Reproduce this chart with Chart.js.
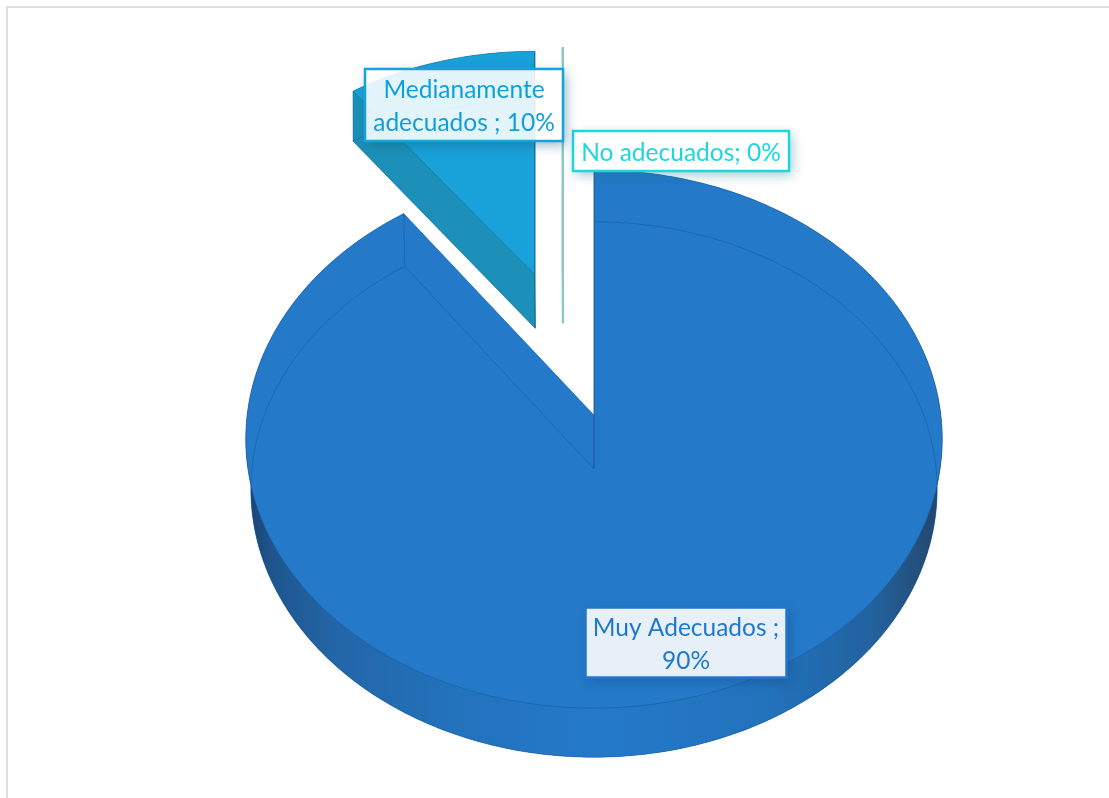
<!DOCTYPE html>
<html lang="es">
<head>
<meta charset="utf-8">
<title>Adecuación</title>
<script src="https://cdn.jsdelivr.net/npm/chart.js@4"></script>
<style>
  html, body { margin: 0; padding: 0; background: #fff; overflow: hidden; }
  #frame { position: absolute; left: 6px; top: 6px; width: 1103px; height: 792px;
           border-top: 2px solid #dedede; border-left: 2px solid #dedede; box-sizing: border-box; }
  #wrap { position: absolute; left: 0; top: 0; width: 1109px; height: 798px; }
</style>
</head>
<body>
<div id="frame"></div>
<div id="wrap"><canvas id="pie" width="1109" height="798"></canvas></div>
<script>
// Survey results
const categories = ['Muy Adecuados ', 'Medianamente adecuados ', 'No adecuados'];
const percentages = [90, 10, 0];

// Slice appearance
const faceColors = ['#2479c9', '#19a1d9', '#1dd6e0'];
const cutColors = ['#2479c9', '#1c90b8', '#88c9c2'];
const explodeOffsets = [0, 172, 172];
const textColors = ['#1f78cf', '#109fdd', '#1dd6e0'];
const borderColors = ['#2476c8', '#19a1d9', '#1dd6e0'];
const boxFills = ['rgba(255,255,255,0.89)', 'rgba(255,255,255,0.88)', 'rgba(255,255,255,0.95)'];
const shadowColors = ['rgba(15,60,110,0.35)', 'rgba(20,90,120,0.45)', 'rgba(20,120,130,0.4)'];
const labelBoxes = [
  { x: 585.5, y: 607.5, w: 201, h: 70 },
  { x: 365, y: 69, w: 198, h: 72 },
  { x: 573, y: 131, w: 216, h: 40 }
];

// Camera used to lay the disc over on the page: radii are multiples of the arc radius
const topView = { stretchX: 1.168, stretchY: 0.899, tilt: 0.0892, drop: 0 };
const baseView = { stretchX: 1.152, stretchY: 0.896, tilt: 0.0766, drop: 54 };
const emptySliceBearing = -9.4 * Math.PI / 180;

const FONT = '24.5px Lato, "Open Sans", sans-serif';
const LINE_HEIGHT = 33;

// Perspective projection of a rim point (u, d) of a slice moved by (su, sd) on the unit disc;
// the sideways move keeps its own depth so the slice's edges stay upright
function project(arc, view, u, d, su, sd) {
  const w = 1 - view.tilt * (d + sd);
  const ws = 1 - view.tilt * sd;
  const r = arc.outerRadius;
  return {
    x: arc.x + r * view.stretchX * (u / w + su / ws),
    y: arc.y + view.drop + r * view.stretchY * (d + sd) / w
  };
}

// Outline samples of one slice rim, moved by the slice's explode offset
function rim(arc, view, shift) {
  const points = [];
  const span = arc.endAngle - arc.startAngle;
  const steps = Math.max(1, Math.ceil(span / (Math.PI / 180)));
  for (let i = 0; i <= steps; i++) {
    const a = arc.startAngle + span * i / steps;
    points.push(project(arc, view, Math.cos(a), Math.sin(a), shift.u, shift.d));
  }
  return points;
}

function trace(ctx, points, close) {
  ctx.beginPath();
  points.forEach((p, i) => (i ? ctx.lineTo(p.x, p.y) : ctx.moveTo(p.x, p.y)));
  if (close) ctx.closePath();
}

function stroke(ctx, points, color, width) {
  ctx.strokeStyle = color;
  ctx.lineWidth = width;
  trace(ctx, points, false);
  ctx.stroke();
}

function sideGradient(ctx, arc, base) {
  const r = arc.outerRadius * topView.stretchX;
  const g = ctx.createLinearGradient(arc.x - r, 0, arc.x + r, 0);
  g.addColorStop(0, '#1b4470');
  g.addColorStop(0.04, '#1f568f');
  g.addColorStop(0.13, '#2366a8');
  g.addColorStop(0.3, '#2272bc');
  g.addColorStop(0.5, base);
  g.addColorStop(0.75, '#2272bc');
  g.addColorStop(0.9, '#22629f');
  g.addColorStop(0.97, '#244f7b');
  g.addColorStop(1, '#25456a');
  return g;
}

function drawSlice(ctx, arc, index) {
  const span = arc.endAngle - arc.startAngle;
  const mid = (arc.startAngle + arc.endAngle) / 2;
  const fraction = arc.options.offset / arc.outerRadius;
  const bearing = span > 0 ? mid : mid + emptySliceBearing;
  const shift = fraction
    ? { u: Math.cos(bearing) * fraction, d: Math.sin(bearing) * fraction }
    : { u: 0, d: 0 };
  const topApex = project(arc, topView, 0, 0, shift.u, shift.d);
  const baseApex = project(arc, baseView, 0, 0, shift.u, shift.d);
  const topRim = rim(arc, topView, shift);
  const baseRim = rim(arc, baseView, shift);

  // A slice of no size is only a sliver standing on edge
  if (span === 0) {
    stroke(ctx, [topRim[0], topApex, baseApex], cutColors[index], 2.4);
    return;
  }

  const face = faceColors[index];
  const isMain = index === 0;

  ctx.fillStyle = face;
  trace(ctx, [baseApex, ...baseRim], true);
  ctx.fill();

  // Outer wall
  ctx.fillStyle = isMain ? sideGradient(ctx, arc, face) : cutColors[index];
  trace(ctx, [...topRim, ...baseRim.slice().reverse()], true);
  ctx.fill();

  // Cut wall that faces the viewer
  const lastTop = topRim[topRim.length - 1];
  const lastBase = baseRim[baseRim.length - 1];
  const firstTop = topRim[0];
  const firstBase = baseRim[0];
  ctx.fillStyle = cutColors[index];
  if (isMain) {
    trace(ctx, [topApex, lastTop, lastBase, baseApex], true);
  } else {
    trace(ctx, [topApex, firstTop, firstBase, baseApex], true);
  }
  ctx.fill();

  // Top face
  ctx.fillStyle = face;
  trace(ctx, [topApex, ...topRim], true);
  ctx.fill();

  // Edges showing through the translucent solid
  const edge = isMain ? 'rgba(20,85,150,0.55)' : 'rgba(20,105,140,0.55)';
  stroke(ctx, baseRim, edge, 0.9);
  stroke(ctx, topRim, edge, 0.9);
  if (isMain) {
    stroke(ctx, [lastTop, lastBase, baseApex], edge, 0.9);
    stroke(ctx, [firstTop, topApex], 'rgba(20,75,135,0.8)', 1);
    stroke(ctx, [topApex, baseApex], 'rgba(20,75,135,0.7)', 1);
  } else {
    stroke(ctx, [firstTop, firstBase, baseApex], edge, 0.9);
    stroke(ctx, [lastTop, topApex, baseApex], 'rgba(20,95,125,0.9)', 1.1);
    stroke(ctx, [firstTop, topApex], edge, 0.9);
  }
}

function wrapLabel(ctx, text, maxWidth) {
  const lines = [];
  let line = '';
  text.split(' ').forEach(word => {
    const next = line ? line + ' ' + word : word;
    if (line && ctx.measureText(next).width > maxWidth) {
      lines.push(line);
      line = word;
    } else {
      line = next;
    }
  });
  lines.push(line);
  return lines;
}

function drawLabel(ctx, index) {
  const box = labelBoxes[index];
  const text = categories[index] + '; ' + percentages[index] + '%';

  // Shadow only outside the box, so the translucent fill stays clean
  ctx.save();
  ctx.beginPath();
  ctx.rect(0, 0, ctx.canvas.width, ctx.canvas.height);
  ctx.rect(box.x, box.y, box.w, box.h);
  ctx.clip('evenodd');
  ctx.shadowColor = shadowColors[index];
  ctx.shadowBlur = 11;
  ctx.shadowOffsetX = 3;
  ctx.shadowOffsetY = 4;
  ctx.fillStyle = '#fff';
  ctx.fillRect(box.x, box.y, box.w, box.h);
  ctx.restore();

  ctx.fillStyle = boxFills[index];
  ctx.fillRect(box.x, box.y, box.w, box.h);
  ctx.strokeStyle = borderColors[index];
  ctx.lineWidth = 2.5;
  ctx.strokeRect(box.x, box.y, box.w, box.h);

  ctx.font = FONT;
  ctx.fillStyle = textColors[index];
  ctx.textAlign = 'center';
  ctx.textBaseline = 'middle';
  const lines = wrapLabel(ctx, text, box.w - 6);
  const cy = box.y + box.h / 2 + 2;
  lines.forEach((line, i) => {
    ctx.fillText(line, box.x + box.w / 2, cy + (i - (lines.length - 1) / 2) * LINE_HEIGHT);
  });
}

// Replaces the flat arcs with the tilted, extruded solid
const solidPie = {
  id: 'solidPie',
  beforeDatasetsDraw(chart) {
    const ctx = chart.ctx;
    const arcs = chart.getDatasetMeta(0).data;
    ctx.save();
    ctx.lineJoin = 'round';
    [1, 2, 0].forEach(i => drawSlice(ctx, arcs[i], i));
    ctx.restore();
    return false;
  },
  afterDraw(chart) {
    const ctx = chart.ctx;
    ctx.save();
    [0, 2, 1].forEach(i => drawLabel(ctx, i));
    ctx.restore();
  }
};

new Chart(document.getElementById('pie'), {
  type: 'pie',
  data: {
    labels: categories,
    datasets: [{
      data: percentages,
      backgroundColor: faceColors,
      offset: explodeOffsets,
      borderWidth: 0
    }]
  },
  options: {
    responsive: false,
    animation: false,
    devicePixelRatio: 1,
    layout: { padding: { left: 79, top: 32 } },
    plugins: { legend: { display: false }, tooltip: { enabled: false }, title: { display: false } }
  },
  plugins: [solidPie]
});
</script>
</body>
</html>
